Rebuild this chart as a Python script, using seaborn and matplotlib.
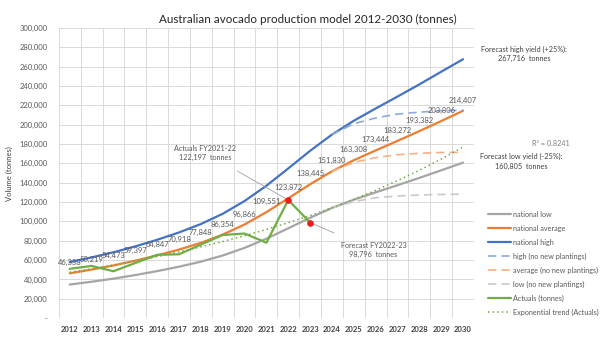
import matplotlib
matplotlib.use("Agg")
from matplotlib import pyplot as plt
from matplotlib.ticker import FuncFormatter, MultipleLocator
import seaborn as sns

# data
years = list(range(2012, 2031))
national_avg = [46338, 50219, 54473, 59397, 64847, 70918, 77848, 86354, 96866, 109551,
                123872, 138445, 151830, 163308, 173444, 183272, 193382, 203806, 214407]
national_high = [57900, 62800, 68100, 74200, 81000, 88600, 97300, 107900, 121100, 136900,
                 154800, 173000, 189800, 204100, 216800, 229100, 241700, 254800, 267716]
national_low = [34750, 37660, 40850, 44550, 48640, 53190, 58390, 64770, 72650, 82160,
                92900, 103830, 113870, 122480, 130080, 137450, 145040, 152850, 160805]

years_nnp = list(range(2024, 2031))
high_nnp = [189800, 201000, 207000, 211000, 213000, 214500, 215000]
avg_nnp = [151830, 161000, 166000, 169000, 170500, 171300, 171500]
low_nnp = [113870, 120500, 124500, 126300, 127300, 127900, 128200]

years_act = list(range(2012, 2024))
actuals = [51000, 54000, 48500, 57000, 65500, 66000, 76000, 86000, 87500, 78000, 122197, 98796]

trend = [47500, 51100, 55000, 59200, 63600, 68500, 73700, 79200, 85200, 91700,
         98700, 106100, 114200, 122800, 132100, 142200, 152900, 164500, 177000]

sns.set_style("whitegrid")
plt.rcParams['font.family'] = ['Lato', 'DejaVu Sans']

fig = plt.figure(figsize=(6, 3.5), dpi=100)
ax = fig.add_axes([0.098, 0.091, 0.692, 0.829])

grey, orange, blue, green = '#A5A5A5', '#ED7D31', '#4472C4', '#70AD47'
lw = 1.6
fs = 5.2

sns.lineplot(x=years, y=national_low, color=grey, lw=lw, label='national low', ax=ax)
sns.lineplot(x=years, y=national_avg, color=orange, lw=lw, label='national average', ax=ax)
sns.lineplot(x=years, y=national_high, color=blue, lw=lw, label='national high', ax=ax)
sns.lineplot(x=years_nnp, y=high_nnp, color='#8FAADC', lw=1.2, ls=(0, (5, 3)),
             label='high (no new plantings)', ax=ax)
sns.lineplot(x=years_nnp, y=avg_nnp, color='#F4B183', lw=1.2, ls=(0, (5, 3)),
             label='average (no new plantings)', ax=ax)
sns.lineplot(x=years_nnp, y=low_nnp, color='#C9C9C9', lw=1.2, ls=(0, (5, 3)),
             label='low (no new plantings)', ax=ax)
sns.lineplot(x=years_act, y=actuals, color=green, lw=lw, label='Actuals (tonnes)', ax=ax)
sns.lineplot(x=years, y=trend, color=green, lw=1.1, ls=(0, (1, 2)),
             label='Exponential trend (Actuals)', ax=ax)

# red markers for FY2021-22 actual and FY2022-23 forecast
ax.scatter(years_act[-2:], actuals[-2:], color='#E81E1E', s=14, zorder=5)

# data labels on the national average line
for x, v in zip(years, national_avg):
    ax.annotate(f'{v:,}', (x, v), xytext=(0, 5), textcoords='offset points',
                ha='center', va='bottom', fontsize=fs + 0.3, color='#595959')

ax.annotate('Actuals FY2021-22\n122,197  tonnes', xy=(2022, 122197), xytext=(2018.2, 171000),
            ha='center', va='center', fontsize=fs, color='#595959', linespacing=1.4,
            arrowprops=dict(arrowstyle='-', color='#A0A0A0', lw=0.6, shrinkA=10, shrinkB=0))
ax.annotate('Forecast FY2022-23\n98,796  tonnes', xy=(2023, 98796), xytext=(2025.9, 70500),
            ha='center', va='center', fontsize=fs, color='#595959', linespacing=1.4,
            arrowprops=dict(arrowstyle='-', color='#A0A0A0', lw=0.6, shrinkA=10, shrinkB=0))

ax.set_xlim(2011.5, 2030.5)
ax.set_ylim(0, 300000)
ax.set_xticks(years)
ax.set_xticks([y + 0.5 for y in range(2011, 2031)], minor=True)
ax.yaxis.set_major_locator(MultipleLocator(20000))
ax.yaxis.set_major_formatter(FuncFormatter(lambda v, p: '-' if v == 0 else f'{v:,.0f}'))
ax.grid(False, which='major', axis='x')
ax.grid(True, which='minor', axis='x', color='#D9D9D9', lw=0.7)
ax.grid(True, which='major', axis='y', color='#D9D9D9', lw=0.7)
ax.tick_params(axis='x', which='both', length=0, labelsize=fs + 0.3, pad=6, labelcolor='#404040')
ax.tick_params(axis='y', length=0, labelsize=fs + 0.3, labelcolor='#595959', pad=8)
for t in ax.get_xticklabels():
    t.set_fontweight('bold')
for s in ax.spines.values():
    s.set_visible(False)
ax.set_ylabel('Volume (tonnes)', fontsize=fs + 0.3, color='#404040', labelpad=5)

fig.text(0.513, 0.945, 'Australian avocado production model 2012-2030 (tonnes)',
         ha='center', va='center', fontsize=8.4, color='#262626')

fig.text(0.873, 0.846, 'Forecast high yield (+25%):\n267,716  tonnes', ha='center', va='center',
         fontsize=fs, color='#404040', linespacing=1.4)
fig.text(0.918, 0.591, 'R² = 0.8241', ha='center', va='center', fontsize=fs, color='#7F7F7F')
fig.text(0.868, 0.539, 'Forecast low yield (-25%):\n160,805  tonnes', ha='center', va='center',
         fontsize=fs, color='#404040', linespacing=1.4)

leg = ax.legend(loc='upper left', bbox_to_anchor=(1.034, 0.37), frameon=False,
                fontsize=fs, labelcolor='#595959', handlelength=3.2, handletextpad=0.3,
                labelspacing=0.95, borderaxespad=0, borderpad=0)

fig.savefig('out.png', dpi=100)
